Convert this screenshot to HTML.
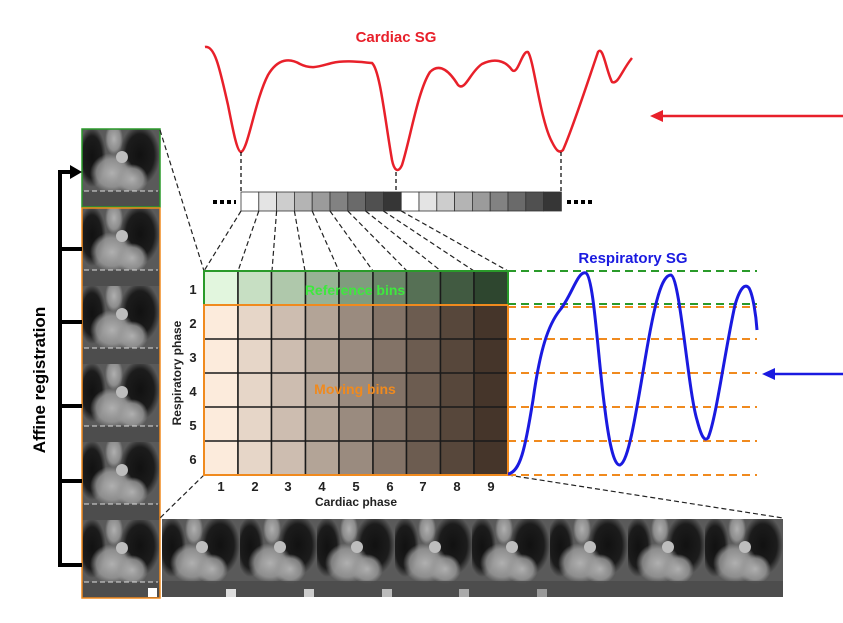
<!DOCTYPE html>
<html><head><meta charset="utf-8"><style>
html,body{margin:0;padding:0;background:#fff;}
svg{display:block;font-family:"Liberation Sans",Arial,sans-serif;font-weight:bold;}
</style></head><body>
<svg width="843" height="623" viewBox="0 0 843 623" xmlns="http://www.w3.org/2000/svg">
<defs>
<radialGradient id="g1" cx="0.5" cy="0.5" r="0.5"><stop offset="0" stop-color="#b0b0b0"/><stop offset="0.7" stop-color="#9a9a9a" stop-opacity="0.8"/><stop offset="1" stop-color="#9a9a9a" stop-opacity="0"/></radialGradient>
<radialGradient id="g2" cx="0.5" cy="0.5" r="0.5"><stop offset="0" stop-color="#111"/><stop offset="0.7" stop-color="#151515" stop-opacity="0.9"/><stop offset="1" stop-color="#151515" stop-opacity="0"/></radialGradient>
<symbol id="mri" viewBox="0 0 78 78">
<rect width="78" height="78" fill="#5a5a5a"/>
<ellipse cx="10" cy="28" rx="14" ry="30" fill="url(#g2)"/>
<ellipse cx="58" cy="26" rx="20" ry="30" fill="url(#g2)"/>
<ellipse cx="32" cy="10" rx="9" ry="16" fill="url(#g1)"/>
<ellipse cx="30" cy="44" rx="22" ry="20" fill="url(#g1)"/>
<ellipse cx="50" cy="50" rx="16" ry="15" fill="url(#g1)"/>
<circle cx="40" cy="28" r="6" fill="#bdbdbd"/>
<rect y="62" width="78" height="16" fill="#4a4a4a" opacity="0.8"/>
</symbol>
</defs>

<g>
<use href="#mri" x="82" y="129" width="78" height="78"/>
<use href="#mri" x="82" y="208" width="78" height="78"/>
<use href="#mri" x="82" y="286" width="78" height="78"/>
<use href="#mri" x="82" y="364" width="78" height="78"/>
<use href="#mri" x="82" y="442" width="78" height="78"/>
<use href="#mri" x="82" y="520" width="78" height="78"/>
<g stroke="#ddd" stroke-dasharray="5,3">
<line x1="84" y1="191" x2="158" y2="191"/>
<line x1="84" y1="270" x2="158" y2="270"/>
<line x1="84" y1="348" x2="158" y2="348"/>
<line x1="84" y1="426" x2="158" y2="426"/>
<line x1="84" y1="504" x2="158" y2="504"/>
<line x1="84" y1="582" x2="158" y2="582"/>
</g>
<rect x="148" y="588" width="9" height="9" fill="#fff"/>
<rect x="82" y="129" width="78" height="78" fill="none" stroke="#2a9a2a" stroke-width="1.5"/>
<rect x="82" y="208" width="78" height="390" fill="none" stroke="#f08a1e" stroke-width="1.5"/>
</g>

<g stroke="#000" stroke-width="4" fill="none">
<polyline points="82,565 60,565 60,172 72,172"/>
<line x1="60" y1="249" x2="82" y2="249"/>
<line x1="60" y1="322" x2="82" y2="322"/>
<line x1="60" y1="406" x2="82" y2="406"/>
<line x1="60" y1="481" x2="82" y2="481"/>
</g>
<polygon points="70,165 82,172 70,179" fill="#000"/>
<text x="45" y="380" font-size="17" text-anchor="middle" transform="rotate(-90 45 380)">Affine registration</text>

<g>
<use href="#mri" x="162" y="519" width="78" height="78"/>
<use href="#mri" x="240" y="519" width="78" height="78"/>
<use href="#mri" x="317" y="519" width="78" height="78"/>
<use href="#mri" x="395" y="519" width="78" height="78"/>
<use href="#mri" x="472" y="519" width="78" height="78"/>
<use href="#mri" x="550" y="519" width="78" height="78"/>
<use href="#mri" x="628" y="519" width="78" height="78"/>
<use href="#mri" x="705" y="519" width="78" height="78"/>
<rect x="226" y="589" width="10" height="8" fill="#ddd"/>
<rect x="304" y="589" width="10" height="8" fill="#ccc"/>
<rect x="382" y="589" width="10" height="8" fill="#bbb"/>
<rect x="459" y="589" width="10" height="8" fill="#aaa"/>
<rect x="537" y="589" width="10" height="8" fill="#999"/>
</g>

<text x="396" y="42" font-size="15" fill="#e8202a" text-anchor="middle">Cardiac SG</text>
<path d="M205,47 C215,45 220,70 228,105 C233,130 237,152 241,152 C248,150 255,100 268,75 C278,58 290,58 300,64 C312,70 320,66 332,63 C345,60 360,62 372,63 C380,70 385,120 392,160 C394,170 398,174 402,165 C410,140 418,90 430,72 C440,62 450,72 458,85 C465,92 470,72 482,64 C494,58 505,60 512,70 C518,76 522,50 528,52 C534,60 540,120 552,142 C556,150 559,154 563,150 C572,130 585,90 598,52 C603,45 606,70 612,82 C618,85 622,70 632,58" fill="none" stroke="#e8202a" stroke-width="2.5"/>
<g stroke="#000" stroke-width="1.2" stroke-dasharray="4,3">
<line x1="241" y1="152" x2="241" y2="192"/>
<line x1="396" y1="172" x2="396" y2="192"/>
<line x1="561" y1="152" x2="561" y2="192"/>
</g>

<line x1="843" y1="116" x2="660" y2="116" stroke="#e8202a" stroke-width="2.5"/>
<polygon points="650,116 663,110 663,122" fill="#e8202a"/>
<line x1="843" y1="374" x2="772" y2="374" stroke="#1a1ae0" stroke-width="2.5"/>
<polygon points="762,374 775,368 775,380" fill="#1a1ae0"/>

<g stroke="#333" stroke-width="0.8">
<rect x="241" y="192" width="17.8" height="19" fill="#fff"/>
<rect x="258.8" y="192" width="17.8" height="19" fill="#e4e4e4"/>
<rect x="276.6" y="192" width="17.8" height="19" fill="#cdcdcd"/>
<rect x="294.4" y="192" width="17.8" height="19" fill="#b4b4b4"/>
<rect x="312.2" y="192" width="17.8" height="19" fill="#9b9b9b"/>
<rect x="330" y="192" width="17.8" height="19" fill="#828282"/>
<rect x="347.8" y="192" width="17.8" height="19" fill="#6a6a6a"/>
<rect x="365.6" y="192" width="17.8" height="19" fill="#505050"/>
<rect x="383.4" y="192" width="17.8" height="19" fill="#363636"/>
<rect x="401.2" y="192" width="17.8" height="19" fill="#fff"/>
<rect x="419" y="192" width="17.8" height="19" fill="#e4e4e4"/>
<rect x="436.8" y="192" width="17.8" height="19" fill="#cdcdcd"/>
<rect x="454.6" y="192" width="17.8" height="19" fill="#b4b4b4"/>
<rect x="472.4" y="192" width="17.8" height="19" fill="#9b9b9b"/>
<rect x="490.2" y="192" width="17.8" height="19" fill="#828282"/>
<rect x="508" y="192" width="17.8" height="19" fill="#6a6a6a"/>
<rect x="525.8" y="192" width="17.8" height="19" fill="#505050"/>
<rect x="543.6" y="192" width="17.8" height="19" fill="#363636"/>
</g>
<g stroke="#000" stroke-width="4" stroke-dasharray="4,3">
<line x1="213" y1="202" x2="236" y2="202"/>
<line x1="567" y1="202" x2="592" y2="202"/>
</g>

<g stroke="#222" stroke-width="1.2" stroke-dasharray="5,3">
<line x1="241" y1="211" x2="204" y2="271"/>
<line x1="258.8" y1="211" x2="238" y2="271"/>
<line x1="276.6" y1="211" x2="272" y2="271"/>
<line x1="294.4" y1="211" x2="305" y2="271"/>
<line x1="312.2" y1="211" x2="339" y2="271"/>
<line x1="330" y1="211" x2="373" y2="271"/>
<line x1="347.8" y1="211" x2="407" y2="271"/>
<line x1="365.6" y1="211" x2="441" y2="271"/>
<line x1="383.4" y1="211" x2="474" y2="271"/>
<line x1="401.2" y1="211" x2="508" y2="271"/>
<line x1="160" y1="130" x2="204" y2="271"/>
<line x1="204" y1="475" x2="160" y2="518"/>
<line x1="508" y1="475" x2="783" y2="518"/>
</g>

<g stroke="#1a1a1a" stroke-width="1.5">
<rect x="204" y="271" width="34" height="34" fill="#e2f6de"/>
<rect x="238" y="271" width="33.5" height="34" fill="#c7dfc3"/>
<rect x="271.5" y="271" width="34" height="34" fill="#afc8ab"/>
<rect x="305.5" y="271" width="33.5" height="34" fill="#97b294"/>
<rect x="339" y="271" width="34" height="34" fill="#809c7e"/>
<rect x="373" y="271" width="33.5" height="34" fill="#6b8669"/>
<rect x="406.5" y="271" width="34" height="34" fill="#567055"/>
<rect x="440.5" y="271" width="33.5" height="34" fill="#415a41"/>
<rect x="474" y="271" width="34" height="34" fill="#2e462f"/>
</g>
<g stroke="#1a1a1a" stroke-width="1.5">
<rect x="204" y="305" width="34" height="170" fill="#fcebdc"/>
<rect x="238" y="305" width="33.5" height="170" fill="#e6d6c8"/>
<rect x="271.5" y="305" width="34" height="170" fill="#cdbdb0"/>
<rect x="305.5" y="305" width="33.5" height="170" fill="#b3a497"/>
<rect x="339" y="305" width="34" height="170" fill="#9a8b7f"/>
<rect x="373" y="305" width="33.5" height="170" fill="#837367"/>
<rect x="406.5" y="305" width="34" height="170" fill="#6c5c50"/>
<rect x="440.5" y="305" width="33.5" height="170" fill="#57473b"/>
<rect x="474" y="305" width="34" height="170" fill="#45352a"/>
<line x1="204" y1="339" x2="508" y2="339"/>
<line x1="204" y1="373" x2="508" y2="373"/>
<line x1="204" y1="407" x2="508" y2="407"/>
<line x1="204" y1="441" x2="508" y2="441"/>
</g>
<rect x="204" y="271" width="304" height="34" fill="none" stroke="#2a9a2a" stroke-width="2"/>
<rect x="204" y="305" width="304" height="170" fill="none" stroke="#f08a1e" stroke-width="2"/>
<text x="355" y="295" font-size="14" fill="#3ee83e" text-anchor="middle">Reference bins</text>
<text x="355" y="394" font-size="14" fill="#f08a1e" text-anchor="middle">Moving bins</text>

<g font-size="13" text-anchor="middle" fill="#222">
<text x="193" y="294">1</text><text x="193" y="328">2</text><text x="193" y="362">3</text>
<text x="193" y="396">4</text><text x="193" y="430">5</text><text x="193" y="464">6</text>
<text x="221" y="491">1</text><text x="255" y="491">2</text><text x="288" y="491">3</text>
<text x="322" y="491">4</text><text x="356" y="491">5</text><text x="390" y="491">6</text>
<text x="423" y="491">7</text><text x="457" y="491">8</text><text x="491" y="491">9</text>
</g>
<g font-size="12" text-anchor="middle" fill="#222">
<text x="356" y="506">Cardiac phase</text>
<text x="181" y="373" transform="rotate(-90 181 373)">Respiratory phase</text>
</g>

<g stroke-width="2" stroke-dasharray="8,5">
<line x1="508" y1="271" x2="757" y2="271" stroke="#2a9a2a"/>
<line x1="508" y1="304" x2="757" y2="304" stroke="#2a9a2a"/>
<line x1="508" y1="307" x2="757" y2="307" stroke="#f08a1e"/>
<line x1="508" y1="339" x2="757" y2="339" stroke="#f08a1e"/>
<line x1="508" y1="373" x2="757" y2="373" stroke="#f08a1e"/>
<line x1="508" y1="407" x2="757" y2="407" stroke="#f08a1e"/>
<line x1="508" y1="441" x2="757" y2="441" stroke="#f08a1e"/>
<line x1="508" y1="475" x2="757" y2="475" stroke="#f08a1e"/>
</g>
<text x="633" y="263" font-size="15" fill="#1a1ae0" text-anchor="middle">Respiratory SG</text>
<path d="M508,474 C520,472 525,450 533,400 C540,350 548,325 560,310 C572,295 578,270 586,273 C594,278 598,360 605,410 C610,450 615,466 620,465 C628,462 635,420 645,360 C655,300 662,275 671,275 C680,278 688,390 697,420 C701,435 704,442 708,438 C716,420 725,350 735,305 C740,288 745,283 749,288 C753,295 756,315 757,330" fill="none" stroke="#1a1ae0" stroke-width="3"/>
</svg>
</body></html>
